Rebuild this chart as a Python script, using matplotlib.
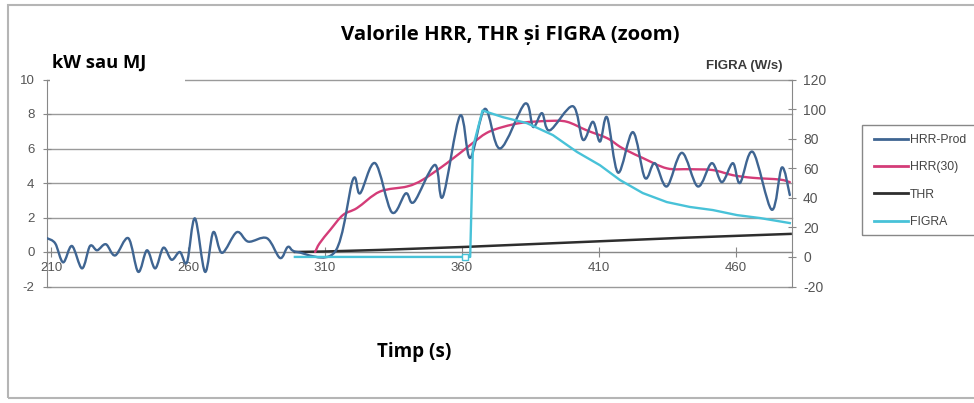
import matplotlib
matplotlib.use("Agg")
import matplotlib.pyplot as plt
import numpy as np
from matplotlib.path import Path
from matplotlib.patches import PathPatch, Rectangle
from matplotlib.lines import Line2D

plt.rcParams["axes.unicode_minus"] = False

# ---- data ----
hrr_prod_t = [208.5, 211.5, 214.4, 217.6, 221.3, 224.2, 226.8, 230.0, 233.4, 238.2,
              241.8, 245.0, 248.0, 251.0, 254.0, 257.0, 259.6, 262.5, 266.2, 269.2,
              272.4, 277.8, 282.0, 288.8, 293.6, 296.5, 299.8, 313.6, 320.2, 322.8,
              328.3, 334.4, 339.5, 342.5, 350.1, 353.0, 359.3, 363.0, 368.4, 373.9,
              383.0, 386.0, 389.2, 392.0, 400.5, 404.2, 407.8, 410.4, 413.0, 417.0,
              422.4, 426.8, 430.4, 434.8, 440.3, 446.1, 451.2, 454.9, 458.9, 461.5,
              466.2, 473.1, 476.8, 479.7]
hrr_prod_v = [0.8, 0.5, -0.6, 0.35, -0.95, 0.35, 0.1, 0.45, -0.2, 0.8,
              -1.15, 0.1, -0.95, 0.25, -0.45, 0.0, -0.6, 1.95, -1.15, 1.15,
              -0.05, 1.15, 0.6, 0.8, -0.35, 0.3, 0.0, 0.0, 4.2, 3.4,
              5.15, 2.3, 3.4, 2.9, 5.05, 3.2, 7.9, 5.45, 8.3, 6.0,
              8.6, 7.25, 8.05, 7.05, 8.45, 6.5, 7.55, 6.4, 7.8, 4.6,
              6.95, 4.3, 5.15, 3.8, 5.75, 3.8, 5.15, 4.05, 5.15, 4.0,
              5.8, 2.45, 4.9, 3.3]

hrr30_t = [306.4, 308.0, 312.0, 316.6, 321.7, 330.0, 340.0, 345.8, 354.5, 363.0,
           369.0, 375.0, 382.3, 392.0, 398.3, 405.6, 413.0, 417.7, 421.3, 426.0,
           434.8, 443.2, 451.6, 459.0, 466.2, 476.0, 479.7]
hrr30_v = [0.0, 0.5, 1.3, 2.15, 2.55, 3.5, 3.8, 4.2, 5.15, 6.2,
           6.9, 7.25, 7.5, 7.6, 7.55, 7.05, 6.6, 6.1, 5.8, 5.45,
           4.85, 4.8, 4.75, 4.45, 4.3, 4.2, 4.05]

thr_t = [299.0, 310.0, 330.0, 362.0, 410.0, 440.0, 480.0]
thr_v = [0.0, 0.03, 0.12, 0.3, 0.62, 0.82, 1.05]

figra_t = [299.0, 361.0, 363.0, 364.0, 367.5, 375.0, 383.7, 393.2, 402.0, 410.4,
           417.7, 426.0, 434.8, 443.2, 451.6, 460.4, 468.8, 479.7]
figra_v = [0.0, 0.0, 0.0, 74.0, 99.0, 94.5, 90.5, 82.4, 71.0, 62.0,
           52.0, 43.2, 37.1, 33.8, 31.7, 28.3, 26.3, 22.9]

x_ticks = [210, 260, 310, 360, 410, 460]
left_ticks = [-2, 0, 2, 4, 6, 8, 10]
right_ticks = [-20, 0, 20, 40, 60, 80, 100, 120]
series_labels = ["HRR-Prod", "HRR(30)", "THR", "FIGRA"]

C_PROD = "#3f6592"
C_30 = "#d43c78"
C_THR = "#2e2e2e"
C_FIGRA = "#48c2d8"
GRID = "#9a9a9a"
TICK = "#555555"

W, H = 974, 403


def fx(px):
    return px / W


def fy(py):
    return 1 - py / H


def smooth(ax, x, y, color, lw):
    # Excel-like smoothed line: Catmull-Rom segments as cubic beziers
    p = np.column_stack([x, y]).astype(float)
    n = len(p)
    verts, codes = [p[0]], [Path.MOVETO]
    for i in range(n - 1):
        p0, p1, p2, p3 = p[max(i - 1, 0)], p[i], p[i + 1], p[min(i + 2, n - 1)]
        verts += [p1 + (p2 - p0) / 6, p2 - (p3 - p1) / 6, p2]
        codes += [Path.CURVE4] * 3
    ax.add_patch(PathPatch(Path(verts, codes), facecolor="none", edgecolor=color,
                           lw=lw, capstyle="round", joinstyle="round", zorder=3))


fig = plt.figure(figsize=(W / 100, H / 100), dpi=100)
ax = fig.add_axes([fx(47), fy(286.5), fx(792) - fx(47), fy(79.5) - fy(286.5)])
ax.set_xlim(208.5, 480.5)
ax.set_ylim(-2, 10)

ax.set_yticks(left_ticks)
ax.set_xticks(x_ticks)
for v in left_ticks:
    ax.axhline(v, color=GRID, lw=1.0, zorder=1, clip_on=False)

for s in ["top", "right"]:
    ax.spines[s].set_visible(False)
ax.spines["left"].set_color("#888888")
ax.spines["bottom"].set_position(("data", 0))
ax.spines["bottom"].set_color("#888888")
ax.tick_params(axis="y", direction="inout", length=6, color="#888888",
               labelcolor=TICK, labelsize=9.5, pad=6)
ax.tick_params(axis="x", direction="inout", length=7, color="#888888",
               labelcolor=TICK, labelsize=9.5, pad=4)
for lab in ax.get_xticklabels() + ax.get_yticklabels():
    lab.set_family("Liberation Sans")

ax.plot(thr_t, thr_v, color=C_THR, lw=1.8, zorder=3)
smooth(ax, hrr30_t, hrr30_v, C_30, 1.7)
smooth(ax, hrr_prod_t, hrr_prod_v, C_PROD, 1.7)

ax2 = ax.twinx()
ax2.set_ylim(-20, 120)
ax2.set_yticks(right_ticks)
for s in ["top", "left", "bottom"]:
    ax2.spines[s].set_visible(False)
ax2.spines["right"].set_color("#888888")
ax2.tick_params(axis="y", direction="inout", length=6, color="#888888",
                labelcolor=TICK, labelsize=10, pad=5)
for lab in ax2.get_yticklabels():
    lab.set_family("Liberation Sans")
ax2.plot(figra_t, figra_v, color=C_FIGRA, lw=1.7, zorder=2,
         marker="s", markevery=[1], markersize=4, markerfacecolor="white",
         markeredgecolor=C_FIGRA)

# texts
fig.text(fx(510), fy(35), "Valorile HRR, THR și FIGRA (zoom)", ha="center", va="center",
         family="Open Sans", fontweight="bold", fontsize=14.7, color="black")
fig.add_artist(Rectangle((fx(50), fy(82)), fx(185) - fx(50), fy(48) - fy(82),
                         facecolor="white", edgecolor="none", zorder=9))
fig.text(fx(52), fy(63), "kW sau MJ", ha="left", va="center",
         family="Open Sans", fontweight="bold", fontsize=13.2, color="black", zorder=10)
fig.text(fx(783), fy(66), "FIGRA (W/s)", ha="right", va="center",
         family="Liberation Sans", fontweight="bold", fontsize=9.5, color="#3a3a3a")
fig.text(fx(414), fy(352), "Timp (s)", ha="center", va="center",
         family="Open Sans", fontweight="bold", fontsize=13.6, color="black")

# legend
handles = [Line2D([], [], color=c, lw=2) for c in (C_PROD, C_30, C_THR, C_FIGRA)]
fig.legend(handles, series_labels, loc="upper left", bbox_to_anchor=(fx(868), fy(128)),
           frameon=False, prop={"family": "Liberation Sans", "size": 8.8},
           handlelength=2.8, handletextpad=0.15, labelspacing=1.25, borderpad=0,
           labelcolor="#444444")
fig.add_artist(Rectangle((fx(862), fy(235)), fx(1000) - fx(862), fy(125) - fy(235),
                         facecolor="none", edgecolor="#888888", lw=1.0))

# scan frame
fig.add_artist(Rectangle((fx(8), fy(398)), fx(1000) - fx(8), fy(5) - fy(398),
                         facecolor="none", edgecolor="#b5b5b5", lw=1.5))

fig.savefig("out.png", dpi=100)
